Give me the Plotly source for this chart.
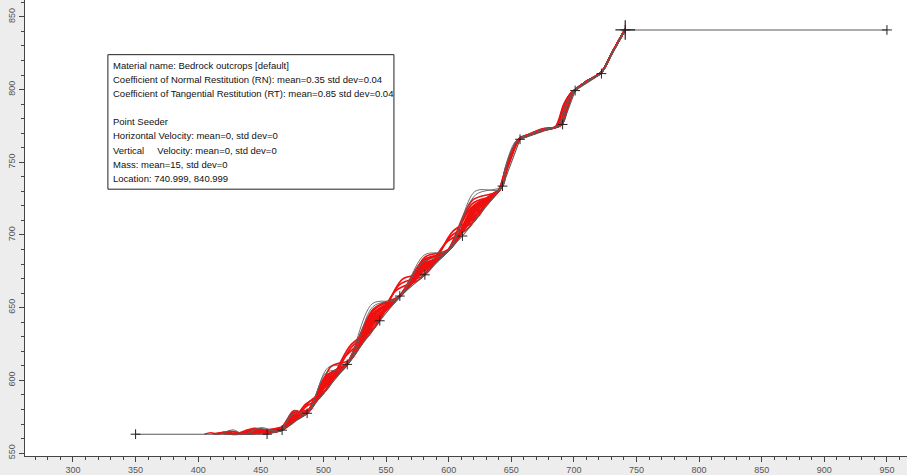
import plotly.graph_objects as go

# Slope profile vertices
ground_x = [350, 455, 467, 487, 519, 545, 561, 581, 611, 643, 657, 691, 701, 722, 741, 950]
ground_y = [563, 563, 565.8, 577.4, 611, 641, 658, 672.6, 699.3, 733.6, 765.8, 776, 799.3, 811, 841, 841]

# Common start of all paths (seeder at 740.999, 840.999)
HEAD = [(741, 841.5), (730, 824.5), (722, 812), (710, 805.5), (702, 800.5)]

# Red rock paths (x, y): bounce points and apex points
T1 = [(699, 797.5), (695, 788), (689, 775.4), (675, 772.5), (662, 768), (657, 766.5),
      (654, 763), (650, 755), (646, 745), (641, 731.5), (620.5, 717.5), (600, 689.5),
      (580.5, 678.2), (561, 658), (540, 644.2), (519, 611), (503, 600.2), (487, 577.4),
      (477, 575.6), (467, 565.8), (457, 565), (448, 563)]
T2 = [(698, 797.5), (693, 789), (687, 774.8), (675, 773), (662, 768.5), (657, 767),
      (654, 763.5), (650, 756), (645, 743), (639, 729.3), (618, 718.8), (597, 686.8),
      (580, 679.9), (563, 659.5), (539.5, 645.7), (516, 607.9), (500.5, 599.6), (485, 576.2),
      (474.5, 576.2), (464, 565.1), (452, 566), (440, 563)]
T3 = [(699, 797), (695, 787.5), (690, 775.7), (675, 772), (662, 767.8), (657, 766.3),
      (654, 762.5), (650, 754), (646, 744.5), (642, 732.5), (622, 716.1), (602, 691.3),
      (580.5, 676.2), (559, 655.9), (540, 641.2), (521, 613.3), (505, 600.3), (489, 579.5),
      (479, 575.8), (469, 567), (462, 566), (455, 563)]
T4 = [(698, 798), (692, 789.5), (686, 774.5), (675, 772.5), (662, 768), (657, 766.5),
      (653, 762.5), (649, 754), (644, 741), (638, 728.2), (618.5, 721.3), (599, 688.6),
      (580.5, 682.2), (562, 658.7), (540, 648.2), (518, 609.9), (502, 603.2), (486, 576.8),
      (476, 578), (466, 565.6), (448, 566), (430, 563)]
T5 = [(699, 797.5), (694, 788.5), (688, 775.1), (675, 772.3), (662, 768.2), (657, 766.5),
      (654, 763.3), (650, 755.5), (645, 742), (640, 730.4), (620.5, 719.5), (601, 690.4),
      (580.5, 677.2), (560, 656.9), (540, 642.2), (520, 612.2), (504, 602.3), (488, 578.5),
      (475.5, 575.7), (463, 564.9), (454, 565.5), (445, 563)]
T6 = [(698, 798), (692, 790), (685, 774.2), (675, 772), (662, 768), (657, 766.5),
      (653, 762), (649, 752.5), (644, 739), (643, 733.6), (619.5, 711.4), (596, 686),
      (580, 674.9), (564, 660.2), (540.5, 639.8), (517, 608.9), (500.5, 594.6), (484, 575.6),
      (473, 571.3), (462, 564.6), (450, 564.5), (438, 563), (428, 564.5), (420, 563)]
T7 = [(699, 797), (695, 787.5), (690, 775.7), (675, 771.8), (662, 767.6), (657, 766.1),
      (654, 762), (650, 753.5), (646, 744), (641, 731.5), (622, 718.1), (603, 692.2),
      (580.5, 681.2), (558, 654.8), (540, 640.2), (522, 614.5), (506, 609.4), (490, 580.6),
      (479, 577.8), (468, 566.4), (460, 566), (452, 563)]
T8 = [(698, 797.5), (693, 789), (687, 774.8), (675, 772.8), (662, 768.5), (657, 766.8),
      (654, 764), (650, 757), (645, 745), (640, 730.4), (619, 723.9), (598, 687.7),
      (579.5, 678.5), (561, 658), (540, 645.2), (519, 611), (503, 599.2), (487, 577.4),
      (476, 579), (465, 565.3), (450, 566), (440, 563), (425, 565), (415, 563),
      (410, 564), (405, 563)]
T9 = [(699, 797.5), (694, 788.5), (689, 775.4), (675, 772.3), (662, 768.1), (657, 766.5),
      (654, 763), (650, 754.5), (646, 745), (642, 732.5), (621, 716), (600, 689.5),
      (581.5, 685), (563, 659.5), (541.5, 645), (520, 612.2), (503, 603.2), (486, 576.8),
      (476.5, 575.3), (467, 565.8), (452, 565.5), (436, 563)]
T10 = [(698, 798), (692, 789.5), (686, 774.5), (675, 772), (662, 767.9), (657, 766.4),
       (654, 763.5), (650, 756), (645, 744), (639, 729.3), (620.5, 720.5), (602, 691.3),
       (581, 678.6), (560, 656.9), (538.5, 645.5), (517, 608.9), (503, 600.2), (489, 579.5),
       (476.5, 576.3), (464, 565.1), (445, 566), (432, 563), (426, 563)]
T11 = [(699, 797), (695, 788), (690, 775.7), (675, 772.2), (662, 768), (657, 766.4),
       (654, 762.5), (650, 753.5), (646, 743.5), (643, 733.6), (621, 719), (599, 688.6),
       (580, 682.9), (561, 658), (541, 639.4), (521, 613.3), (504.5, 603.8), (488, 578.5),
       (477, 577.6), (466, 565.6), (450, 565.5), (433, 563)]
T12 = [(698, 797.5), (693, 789.5), (687, 774.8), (675, 772.6), (662, 768.3), (657, 766.6),
       (654, 763.2), (650, 755), (645, 743.5), (640, 730.4), (618.5, 711.3), (597, 686.8),
       (579.5, 678.5), (562, 658.7), (540, 649.2), (518, 609.9), (501.5, 596.6), (485, 576.2),
       (474, 572.9), (463, 564.9), (445, 567), (428, 563), (420, 564.5), (415, 563)]
T13 = [(699, 797.5), (694, 788.5), (688, 775.1), (675, 772.4), (662, 768.2), (657, 766.5),
       (654, 763), (650, 755), (646, 745), (641, 731.5), (631, 725.7), (621, 710),
       (601, 698.4), (581, 672.6), (561, 666), (541, 636.4), (522, 622.5), (503, 594.2),
       (489, 585.5), (475, 570.4), (460, 566.5), (442, 563)]
T14 = [(698, 797.5), (693, 789), (687, 774.8), (675, 772.5), (662, 768.2), (657, 766.5),
       (654, 763), (650, 754.5), (646, 744.5), (642, 732.5), (633, 726.9), (624, 713.2),
       (603.5, 702.6), (583, 674.4), (563, 669.5), (543, 638.7), (521.5, 623.9), (500, 591),
       (486, 583.8), (472, 568.7), (456, 566), (438, 563)]
T15 = [(699, 797), (694, 788), (689, 775.4), (675, 772.1), (662, 767.9), (657, 766.3),
       (654, 763.3), (650, 755.5), (645, 743), (640, 730.4), (628.5, 724.1), (617, 705.7),
       (597.5, 694.3), (578, 670.4), (557.5, 661.3), (537, 631.8), (517.5, 616.4), (498, 589),
       (484, 580.7), (470, 567.5), (452, 566), (424, 563), (418, 564), (412, 563)]

# Gray rock paths (x, y)
G1 = [(699, 797.5), (694, 788), (688, 775.1), (675, 772.6), (662, 768.2), (657, 766.5),
      (653, 764), (649, 757), (645, 746), (641, 731.5), (621, 730), (600, 689.5),
      (580.5, 686.2), (559, 655.9), (539, 652.7), (517, 608.9), (502, 605.2), (487, 577.4),
      (476, 577), (465, 565.3), (448, 567), (436, 563), (428, 566), (418, 563)]
G2 = [(698, 797.5), (693, 789), (687, 774.8), (675, 772.4), (662, 768.3), (657, 766.6),
      (654, 764), (650, 757.5), (646, 747.5), (643, 733.6), (621.5, 727.6), (598, 687.7),
      (579, 681.1), (560, 656.9), (539.5, 650.7), (520, 612.2), (503.5, 608.7), (487, 577.4),
      (476, 579), (465, 565.3), (450, 567.5), (440, 563)]

red_paths = [T1, T2, T3, T4, T5, T6, T7, T8, T9, T10, T11, T12, T13, T14, T15]
gray_paths = [G1, G2]

x_tick_vals = [300, 350, 400, 450, 500, 550, 600, 650, 700, 750, 800, 850, 900, 950]
y_tick_vals = [550, 600, 650, 700, 750, 800, 850]

info_lines = [
    "Material name: Bedrock outcrops [default]",
    "Coefficient of Normal Restitution (RN): mean=0.35 std dev=0.04",
    "Coefficient of Tangential Restitution (RT): mean=0.85 std dev=0.04",
    "",
    "Point Seeder",
    "Horizontal Velocity: mean=0, std dev=0",
    "Vertical\u00a0\u00a0\u00a0\u00a0 Velocity: mean=0, std dev=0",
    "Mass: mean=15, std dev=0",
    "Location: 740.999, 840.999",
]

fig = go.Figure()

for p in red_paths:
    pts = HEAD + p
    fig.add_trace(go.Scatter(
        x=[a for a, b in pts], y=[b for a, b in pts], mode="lines",
        line=dict(color="#f01010", width=1.7, shape="spline", smoothing=0.9),
        hoverinfo="skip", showlegend=False))

for p in gray_paths:
    pts = HEAD + p
    fig.add_trace(go.Scatter(
        x=[a for a, b in pts], y=[b for a, b in pts], mode="lines",
        line=dict(color="#606060", width=0.9, shape="spline", smoothing=0.9),
        hoverinfo="skip", showlegend=False))

fig.add_trace(go.Scatter(
    x=ground_x, y=ground_y, mode="lines+markers",
    line=dict(color="#5a5a5a", width=1.1),
    marker=dict(symbol="cross-thin", size=7, line=dict(width=1, color="#222222")),
    hoverinfo="skip", showlegend=False))

# larger seeder cross
fig.add_trace(go.Scatter(
    x=[741], y=[841], mode="markers",
    marker=dict(symbol="cross-thin", size=14, line=dict(width=1.2, color="#222222")),
    hoverinfo="skip", showlegend=False))

# info box
fig.add_shape(type="rect", xref="x", yref="y", x0=327.9, x1=556.3, y0=731.5, y1=824,
              line=dict(color="#222222", width=1), fillcolor="white", layer="above")
for i, line in enumerate(info_lines):
    if not line:
        continue
    fig.add_annotation(
        x=330.5, y=816.8 - i * 9.73, xref="x", yref="y", xanchor="left", yanchor="middle",
        text=line, showarrow=False, align="left",
        font=dict(family="Liberation Sans, Arial", size=9.5, color="#111111"))

axis_common = dict(
    showgrid=False, zeroline=False, showline=True, linecolor="#444444", linewidth=1,
    ticks="outside", ticklen=5, tickcolor="#444444", tickwidth=1,
    tickfont=dict(family="Liberation Sans, Arial", size=9, color="#555555"),
    minor=dict(dtick=10, ticks="outside", ticklen=3, tickcolor="#444444", tickwidth=1, showgrid=False),
)

fig.update_xaxes(range=[261.7, 966], tickvals=x_tick_vals, **axis_common)
fig.update_yaxes(range=[548, 861.6], tickvals=y_tick_vals, tickangle=-90, **axis_common)

fig.update_layout(
    width=907, height=475,
    margin=dict(l=25, r=0, t=0, b=17),
    paper_bgcolor="#ededed", plot_bgcolor="white",
    showlegend=False,
)

fig.write_html("out.html")
